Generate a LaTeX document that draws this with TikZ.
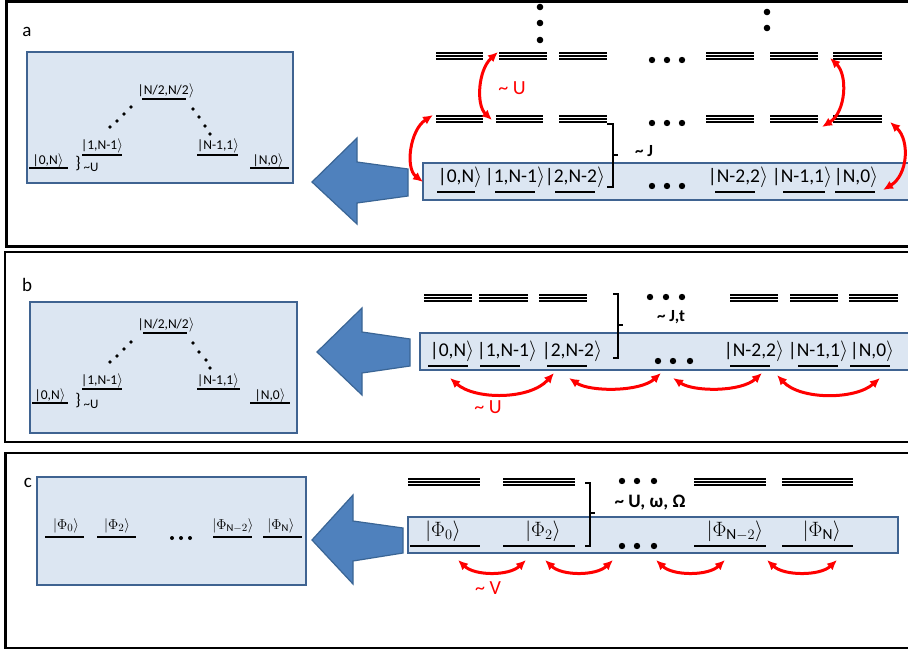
\documentclass[tikz,border=0pt]{standalone}
\usepackage{fontspec}
\setmainfont{Carlito}
\usetikzlibrary{arrows.meta}
\definecolor{boxfill}{HTML}{DCE6F2}
\definecolor{boxline}{HTML}{3F6391}
\definecolor{arrfill}{HTML}{4F81BD}
\definecolor{arrline}{HTML}{3A6595}
\definecolor{redc}{HTML}{FF0000}
\newcommand\kt[1]{|#1$\rangle$}
\newcommand\trip[3]{\foreach \dd in {-3.3,0,3.3}{\draw[tripl] (#1,#3+\dd) -- (#2,#3+\dd);}}
\tikzset{
  panel/.style={draw=black, line width=2.2pt},
  lbox/.style={draw=boxline, fill=boxfill, line width=1.8pt},
  lvl/.style={line width=1.3pt},
  ulvl/.style={line width=1.8pt},
  tripl/.style={line width=1.8pt},
  lbl/.style={inner sep=0pt, font=\fontsize{13.5}{15}\selectfont},
  rlbl/.style={inner sep=0pt, font=\fontsize{19.5}{22}\selectfont},
  plbl/.style={inner sep=0pt, font=\fontsize{19}{21}\selectfont},
  philbl/.style={inner sep=0pt, font=\fontsize{15}{17}\selectfont},
  phirlbl/.style={inner sep=0pt, font=\fontsize{22}{24}\selectfont},
  redarr/.style={draw=redc, line width=3pt, {Latex[length=10pt,width=9pt]}-{Latex[length=10pt,width=9pt]}},
  redlbl/.style={inner sep=0pt, text=redc, font=\fontsize{20}{22}\selectfont},
  boldlbl/.style={inner sep=0pt, font=\bfseries\fontsize{17}{19}\selectfont},
  bigarr/.style={fill=arrfill, draw=arrline, line width=1.2pt, line join=miter},
  brk/.style={line width=1.8pt},
  bracelbl/.style={inner sep=0pt, font=\fontsize{17}{17}\selectfont},
  smalllbl/.style={inner sep=0pt, font=\fontsize{13}{14}\selectfont},
}
\begin{document}
\begin{tikzpicture}[x=1pt,y=-1pt]
\useasboundingbox (0,0) rectangle (908,650);
\clip (0,0) rectangle (908,650);
\fill[white] (0,0) rectangle (908,650);

% ================= PANEL A =================
\draw[panel] (6.5,1.5) rectangle (925,246.5);
\node[plbl] (la) at (27,32) {a};
\draw[lbox] (27,52) rectangle (293,183);
\node[lbl] (a1) at (48,161) {\kt{0,N}};   \draw[lvl] (29,168) -- (68,168);
\node[lbl] (a2) at (102,146) {\kt{1,N-1}}; \draw[lvl] (82,155) -- (122,155);
\node[lbl] (a3) at (166,91) {\kt{N/2,N/2}}; \draw[lvl] (142,99) -- (186,99);
\node[lbl] (a4) at (218,146) {\kt{N-1,1}}; \draw[lvl] (197,155) -- (238,155);
\node[lbl] (a5) at (268,161) {\kt{N,0}};   \draw[lvl] (250,168) -- (289,168);
\node[bracelbl] (ab) at (78,164) {\}};
\node[smalllbl] (aU) at (91,167) {\textasciitilde U};
\foreach \p in {(110,127),(117,121),(124,114),(131,107),(193,109),(199,117),(205,126),(210,134)} \fill \p circle (1.9pt);

% big arrow a
\draw[bigarr] (312,182) -- (357,138) -- (357,162) -- (408,169) -- (408,196) -- (357,203) -- (357,224) -- cycle;

% right box a
\draw[lbox] (423,163) rectangle (930,200);
\node[rlbl] (r1) at (460,177) {\kt{0,N}};   \draw[ulvl] (437,192) -- (475,192);
\node[rlbl] (r2) at (515,177) {\kt{1,N-1}}; \draw[ulvl] (495,192) -- (535,192);
\node[rlbl] (r3) at (575,177) {\kt{2,N-2}}; \draw[ulvl] (555,192) -- (595,192);
\node[rlbl] (r4) at (738,177) {\kt{N-2,2}}; \draw[ulvl] (715,192) -- (755,192);
\node[rlbl] (r5) at (802,177) {\kt{N-1,1}}; \draw[ulvl] (783,192) -- (825,192);
\node[rlbl] (r6) at (856,177) {\kt{N,0}};   \draw[ulvl] (835,192) -- (875,192);
\foreach \xx in {652,667,682} \fill (\xx,186) circle (3.2pt);

% triple levels a
\trip{436}{483}{56} \trip{499}{547}{56} \trip{559}{607}{56}
\trip{706}{754}{56} \trip{770}{818}{56} \trip{833}{882}{56}
\trip{436}{483}{119} \trip{496}{543}{119} \trip{559}{607}{119}
\trip{706}{754}{119} \trip{770}{818}{119} \trip{833}{882}{119}
\foreach \xx in {652,667,682} {\fill (\xx,60) circle (3.2pt); \fill (\xx,123) circle (3.2pt);}
\foreach \yy in {7,23,40} \fill (540,\yy) circle (3.3pt);
\foreach \yy in {12,28} \fill (767,\yy) circle (3.3pt);

% bracket a
\draw[brk] (607,124) -| (613,187) -- (607,187);
\draw[brk] (613,155) -- (618,155);
\node[boldlbl] (aJ) at (644,151) {\textasciitilde\ J};

% red arrows a
\coordinate (aUs) at (498,52);  \coordinate (aUe) at (492,120);
\draw[redarr] (aUs) .. controls (478,70) and (476,105) .. (aUe);
\node[redlbl] (aUl) at (512,88) {\textasciitilde\ U};
\coordinate (aLs) at (433,115); \coordinate (aLe) at (423,182);
\draw[redarr] (aLs) .. controls (410,130) and (405,168) .. (aLe);
\coordinate (aRs) at (830,58);  \coordinate (aRe) at (822,127);
\draw[redarr] (aRs) .. controls (848,75) and (846,112) .. (aRe);
\coordinate (aBs) at (890,122); \coordinate (aBe) at (883,190);
\draw[redarr] (aBs) .. controls (910,140) and (908,175) .. (aBe);

% ================= PANEL B =================
\draw[panel] (5,252) rectangle (925,442);
\node[plbl] (lb) at (27,285) {b};
\draw[lbox] (30,302) rectangle (297,433);
\node[lbl] (b1) at (50,396) {\kt{0,N}};   \draw[lvl] (32,403) -- (68,403);
\node[lbl] (b2) at (102,381) {\kt{1,N-1}}; \draw[lvl] (82,389) -- (122,389);
\node[lbl] (b3) at (166,325) {\kt{N/2,N/2}}; \draw[lvl] (143,333) -- (187,333);
\node[lbl] (b4) at (218,381) {\kt{N-1,1}}; \draw[lvl] (197,389) -- (240,389);
\node[lbl] (b5) at (270,396) {\kt{N,0}};   \draw[lvl] (250,403) -- (290,403);
\node[bracelbl] (bb) at (78,401) {\}};
\node[smalllbl] (bU) at (91,404) {\textasciitilde U};
\foreach \p in {(110,362),(117,356),(124,349),(131,342),(193,343),(199,352),(206,360),(210,368)} \fill \p circle (1.9pt);

\draw[bigarr] (317,352) -- (362,308) -- (362,332) -- (410,339) -- (410,366) -- (362,373) -- (362,395) -- cycle;

\draw[lbox] (420,333) rectangle (930,370);
\node[rlbl] (s1) at (452,351) {\kt{0,N}};   \draw[ulvl] (428,366) -- (468,366);
\node[rlbl] (s2) at (507,351) {\kt{1,N-1}}; \draw[ulvl] (480,366) -- (520,366);
\node[rlbl] (s3) at (572,351) {\kt{2,N-2}}; \draw[ulvl] (547,366) -- (587,366);
\node[rlbl] (s4) at (754,351) {\kt{N-2,2}}; \draw[ulvl] (730,366) -- (770,366);
\node[rlbl] (s5) at (818,351) {\kt{N-1,1}}; \draw[ulvl] (798,366) -- (838,366);
\node[rlbl] (s6) at (872,351) {\kt{N,0}};   \draw[ulvl] (850,366) -- (890,366);
\foreach \xx in {658,673,690} \fill (\xx,361) circle (3.2pt);

\trip{424}{472}{298} \trip{479}{528}{298} \trip{539}{587}{298}
\trip{730}{778}{298} \trip{790}{838}{298} \trip{849}{898}{298}
\foreach \xx in {650,666,682} \fill (\xx,297) circle (3.2pt);

\draw[brk] (613,294) -| (618,358) -- (613,358);
\draw[brk] (618,325) -- (623,325);
\node[boldlbl] (bJ) at (671,317) {\textasciitilde\ J,t};

\coordinate (b1s) at (450,378); \coordinate (b1e) at (554,373);
\draw[redarr] (b1s) .. controls (475,400) and (530,400) .. (b1e);
\coordinate (b2s) at (569,378); \coordinate (b2e) at (661,373);
\draw[redarr] (b2s) .. controls (590,392) and (640,392) .. (b2e);
\coordinate (b3s) at (673,378); \coordinate (b3e) at (762,373);
\draw[redarr] (b3s) .. controls (694,392) and (741,392) .. (b3e);
\coordinate (b4s) at (777,375); \coordinate (b4e) at (880,378);
\draw[redarr] (b4s) .. controls (800,400) and (855,400) .. (b4e);
\node[redlbl] (bUl) at (488,407) {\textasciitilde\ U};

% ================= PANEL C =================
\draw[panel] (5.5,453) rectangle (925,648);
\draw[lbox] (37,477) rectangle (306,585);
\node[plbl] (lc) at (28,483) {c};
\node[philbl] (c1) at (66,526) {$|\Phi_0\rangle$};     \draw[lvl] (45,537) -- (84,537);
\node[philbl] (c2) at (117,526) {$|\Phi_2\rangle$};    \draw[lvl] (97,537) -- (136,537);
\node[philbl] (c3) at (233,526) {$|\Phi_{\mathrm{N}-2}\rangle$}; \draw[lvl] (213,537) -- (252,537);
\node[philbl] (c4) at (281,526) {$|\Phi_{\mathrm{N}}\rangle$};    \draw[lvl] (263,537) -- (302,537);
\foreach \xx in {172,181,190} \fill (\xx,538) circle (2pt);

\draw[bigarr] (312,540) -- (353,495) -- (353,521) -- (403,528) -- (403,553) -- (353,561) -- (353,584) -- cycle;

\draw[lbox] (408,517) rectangle (898,553);
\node[phirlbl] (t1) at (443,531) {$|\Phi_0\rangle$};     \draw[ulvl] (410,546) -- (480,546);
\node[phirlbl] (t2) at (543,531) {$|\Phi_2\rangle$};     \draw[ulvl] (503,546) -- (575,546);
\node[phirlbl] (t3) at (735,531) {$|\Phi_{\mathrm{N}-2}\rangle$}; \draw[ulvl] (694,546) -- (766,546);
\node[phirlbl] (t4) at (822,531) {$|\Phi_{\mathrm{N}}\rangle$};     \draw[ulvl] (782,546) -- (853,546);
\foreach \xx in {622,637,654} \fill (\xx,546) circle (3.2pt);

\trip{408}{480}{482} \trip{503}{575}{482} \trip{694}{766}{482} \trip{782}{853}{482}
\foreach \xx in {622,637,654} \fill (\xx,481) circle (3.2pt);

\draw[brk] (585,483) -| (590,546) -- (585,546);
\draw[brk] (590,513) -- (595,513);
\node[boldlbl, font=\bfseries\fontsize{19}{21}\selectfont] (cU) at (650,503) {\textasciitilde\ U, ω, Ω};

\coordinate (c1s) at (458,560); \coordinate (c1e) at (526,560);
\draw[redarr] (c1s) .. controls (475,576) and (509,576) .. (c1e);
\coordinate (c2s) at (545,560); \coordinate (c2e) at (613,560);
\draw[redarr] (c2s) .. controls (562,576) and (596,576) .. (c2e);
\coordinate (c3s) at (656,560); \coordinate (c3e) at (725,560);
\draw[redarr] (c3s) .. controls (673,576) and (708,576) .. (c3e);
\coordinate (c4s) at (767,560); \coordinate (c4e) at (837,560);
\draw[redarr] (c4s) .. controls (784,576) and (820,576) .. (c4e);
\node[redlbl] (cVl) at (488,588) {\textasciitilde\ V};
\end{tikzpicture}
\end{document}
